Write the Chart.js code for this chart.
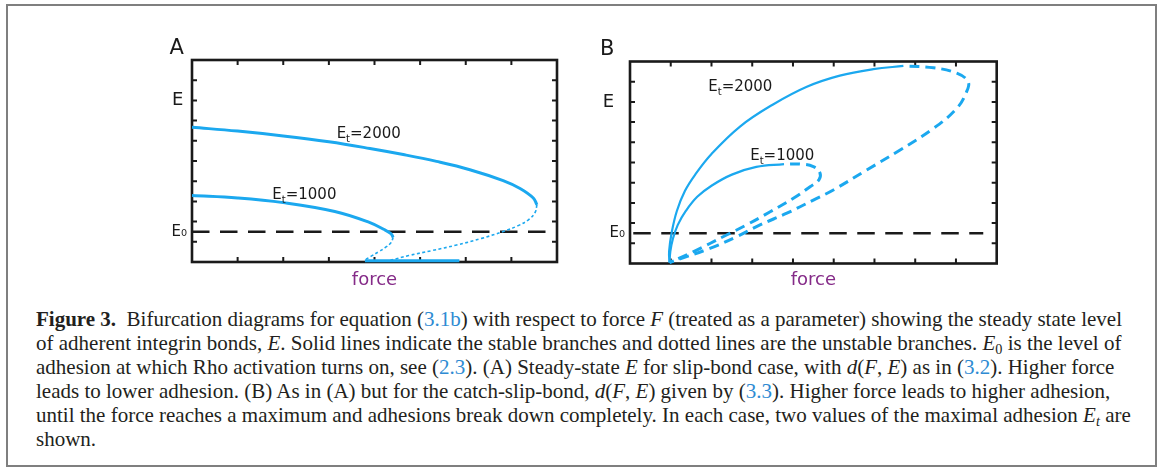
<!DOCTYPE html>
<html>
<head>
<meta charset="utf-8">
<script src="https://cdn.jsdelivr.net/npm/chart.js@4.4.1/dist/chart.umd.min.js"></script>
<style>
  html, body { margin: 0; padding: 0; background: #fff; }
  body { width: 1165px; height: 468px; position: relative; overflow: hidden; }
  #frame { position: absolute; left: 6px; top: 4px; width: 1151px; height: 463px; box-sizing: border-box; border: 2px solid #7f7f7f; }
  .panel { position: absolute; }
  #caption { position: absolute; left: 36px; font-family: "Liberation Serif", "Times New Roman", serif; color: #231f20; white-space: nowrap; }
  #caption .ln { display: block; width: max-content; height: 24px; line-height: 24px; }
  #caption .ref { color: #2e8bd3; }
  #caption sub { font-size: 0.68em; line-height: 0; vertical-align: -0.28em; }
</style>
</head>
<body>
<div id="frame"></div>
<div class="panel" style="left:140px;top:20px;"><canvas id="chartA" width="440" height="275"></canvas></div>
<div class="panel" style="left:580px;top:20px;"><canvas id="chartB" width="440" height="275"></canvas></div>
<div id="caption">
  <span class="ln"><b>Figure 3.</b>&nbsp;&nbsp;Bifurcation diagrams for equation (<span class="ref">3.1b</span>) with respect to force <i>F</i> (treated as a parameter) showing the steady state level</span>
  <span class="ln">of adherent integrin bonds, <i>E</i>. Solid lines indicate the stable branches and dotted lines are the unstable branches. <i>E</i><sub>0</sub> is the level of</span>
  <span class="ln">adhesion at which Rho activation turns on, see (<span class="ref">2.3</span>). (A) Steady-state <i>E</i> for slip-bond case, with <i>d</i>(<i>F</i>, <i>E</i>) as in (<span class="ref">3.2</span>). Higher force</span>
  <span class="ln">leads to lower adhesion. (B) As in (A) but for the catch-slip-bond, <i>d</i>(<i>F</i>, <i>E</i>) given by (<span class="ref">3.3</span>). Higher force leads to higher adhesion,</span>
  <span class="ln">until the force reaches a maximum and adhesions break down completely. In each case, two values of the maximal adhesion <i>E<sub>t</sub></i> are</span>
  <span class="ln">shown.</span>
</div>
<script>
// ---- Panel A: slip bond (force on x, adhesion E on y) ----
const slipStable2000X   = [0, 1.0, 2.0, 3.0, 3.9, 4.63, 5.36, 6.09, 6.82, 7.19, 7.48, 7.56];
const slipStable2000Y   = [6.67, 6.48, 6.24, 5.95, 5.62, 5.32, 4.98, 4.57, 4.03, 3.64, 3.17, 2.83];
const slipUnstable2000X = [7.56, 7.52, 7.38, 7.15, 6.82, 6.35, 5.8, 5.25, 4.75, 4.35];
const slipUnstable2000Y = [2.83, 2.45, 2.1, 1.8, 1.51, 1.17, 0.84, 0.56, 0.32, 0.08];
const slipStable1000X   = [0, 1.0, 2.0, 3.13, 3.9, 4.2, 4.36, 4.41];
const slipStable1000Y   = [3.29, 3.17, 2.94, 2.50, 1.95, 1.62, 1.4, 1.22];
const slipUnstable1000X = [4.41, 4.36, 4.24, 4.1, 3.92, 3.79];
const slipUnstable1000Y = [1.22, 0.95, 0.72, 0.52, 0.28, 0.1];
const slipZeroX = [3.79, 5.86];
const slipZeroY = [0.06, 0.06];

// ---- Panel B: catch-slip bond ----
const catchStable2000X   = [0.97, 0.96, 1.02, 1.15, 1.35, 1.6, 2.0, 2.7, 3.5, 4.34, 5.15, 5.97, 6.71];
const catchStable2000Y   = [0.05, 0.6, 1.5, 2.6, 3.6, 4.4, 5.42, 6.78, 7.86, 8.75, 9.3, 9.62, 9.78];
const catchUnstable2000X = [6.71, 7.45, 8.02, 8.30, 8.26, 8.02, 7.45, 6.63, 5.81, 4.99, 4.50, 3.85, 3.19, 2.62, 1.96, 0.97];
const catchUnstable2000Y = [9.78, 9.69, 9.42, 9.0, 8.5, 7.68, 6.69, 5.62, 4.63, 3.64, 3.14, 2.49, 1.91, 1.33, 0.75, 0.05];
const catchStable1000X   = [0.97, 0.99, 1.05, 1.17, 1.37, 1.65, 2.0, 2.5, 3.1, 3.78];
const catchStable1000Y   = [0.05, 0.6, 1.2, 1.9, 2.6, 3.3, 3.85, 4.4, 4.78, 4.92];
const catchUnstable1000X = [3.78, 4.2, 4.5, 4.66, 4.64, 4.42, 4.01, 3.44, 2.86, 2.37, 1.55, 0.97];
const catchUnstable1000Y = [4.92, 4.92, 4.8, 4.5, 4.15, 3.8, 3.23, 2.56, 1.91, 1.41, 0.58, 0.05];

// Rho activation threshold and the y tick that carries the "E" axis name
const E0 = 1.5;
const eTickValue = 8;
const etValues = [1000, 2000];

const BLUE = '#1ba8ef';
const INK = '#1a1a1a';
const FONT = '"DejaVu Sans", Verdana, sans-serif';

const pts = (xs, ys) => xs.map((x, i) => ({ x, y: ys[i] }));

function curve(xs, ys, style) {
  return Object.assign({
    data: pts(xs, ys), showLine: true, pointRadius: 0, borderColor: BLUE,
    backgroundColor: BLUE, fill: false, clip: false, tension: 0.4
  }, style);
}

function thresholdLine(x0, x1) {
  return {
    data: pts([x0, x1], [E0, E0]), showLine: true, pointRadius: 0, borderColor: INK,
    borderWidth: 2.6, borderDash: [17.5, 10.5], tension: 0, order: 10, clip: false
  };
}

// Frame with inward ticks on all four sides, panel letter and curve labels
const framePlugin = {
  id: 'panelFrame',
  beforeDatasetsDraw(chart) {
    const { ctx, chartArea: a, scales: { x, y } } = chart;
    ctx.save();
    ctx.strokeStyle = INK;
    ctx.lineWidth = 2;
    const L = 5;
    ctx.beginPath();
    for (let v = x.min + 1; v < x.max; v++) {
      const px = x.getPixelForValue(v);
      ctx.moveTo(px, a.top); ctx.lineTo(px, a.top + L);
      ctx.moveTo(px, a.bottom); ctx.lineTo(px, a.bottom - L);
    }
    for (let v = y.min + 1; v < y.max; v++) {
      const py = y.getPixelForValue(v);
      ctx.moveTo(a.left, py); ctx.lineTo(a.left + L, py);
      ctx.moveTo(a.right, py); ctx.lineTo(a.right - L, py);
    }
    ctx.stroke();
    ctx.lineWidth = 2.6;
    ctx.strokeRect(a.left, a.top, a.right - a.left, a.bottom - a.top);
    ctx.restore();
  },
  afterDatasetsDraw(chart, args, opts) {
    const { ctx, scales: { x, y } } = chart;
    ctx.save();
    ctx.fillStyle = INK;
    ctx.textBaseline = 'alphabetic';
    ctx.textAlign = 'left';
    ctx.font = '21px ' + FONT;
    ctx.fillText(opts.letter, opts.letterX, opts.letterY);
    for (const lab of opts.labels) {
      let px = x.getPixelForValue(lab.x);
      const py = y.getPixelForValue(lab.y);
      ctx.font = '15px ' + FONT;
      ctx.fillText('E', px, py);
      px += ctx.measureText('E').width;
      ctx.font = '10px ' + FONT;
      ctx.fillText('t', px, py + 4);
      px += ctx.measureText('t').width;
      ctx.font = '15px ' + FONT;
      ctx.fillText('=' + lab.value, px, py);
    }
    ctx.restore();
  }
};

function makeChart(id, cfg) {
  return new Chart(document.getElementById(id), {
    type: 'scatter',
    data: { datasets: cfg.datasets },
    options: {
      responsive: false,
      animation: false,
      events: [],
      layout: { padding: { left: 0, top: cfg.top, right: cfg.right, bottom: 0 } },
      plugins: {
        legend: { display: false },
        tooltip: { enabled: false },
        panelFrame: { letter: cfg.letter, letterX: cfg.letterX, letterY: cfg.letterY, labels: cfg.labels }
      },
      scales: {
        x: {
          type: 'linear', min: 0, max: cfg.xMax,
          ticks: { display: false },
          grid: { display: false, drawTicks: false },
          border: { display: false },
          title: {
            display: true, text: 'force', color: '#852b88',
            font: { family: FONT, size: 18 }, padding: { top: 0, bottom: 4 }
          },
          afterFit: s => { s.height = cfg.xH; }
        },
        y: {
          type: 'linear', min: 0, max: 10,
          grid: { display: false, drawTicks: false },
          border: { display: false },
          afterBuildTicks: s => { s.ticks = [{ value: E0 }, { value: eTickValue }]; },
          ticks: {
            padding: 5, color: INK,
            callback: v => (v === E0 ? 'E\u2080' : cfg.eLabel),
            font: c => ({ family: FONT, size: (c.tick && c.tick.value === E0) ? 15 : 18 })
          },
          afterFit: s => { s.width = cfg.yW; }
        }
      }
    },
    plugins: [framePlugin]
  });
}

const stableA = { borderWidth: 3 };
const unstableA = { borderWidth: 1.6, borderDash: [3, 2.5] };
const stableB = { borderWidth: 2.2 };
const unstableB = { borderWidth: 3, borderDash: [10, 6], borderDashOffset: 10 };

makeChart('chartA', {
  xMax: 8, top: 40, right: 23, yW: 52, xH: 33, eLabel: 'E\u2009',
  letter: 'A', letterX: 29.5, letterY: 33.5,
  labels: [
    { x: 3.17, y: 6.13, value: etValues[1] },
    { x: 1.76, y: 3.13, value: etValues[0] }
  ],
  datasets: [
    thresholdLine(0, 7.77),
    curve(slipStable2000X, slipStable2000Y, stableA),
    curve(slipUnstable2000X, slipUnstable2000Y, unstableA),
    curve(slipStable1000X, slipStable1000Y, stableA),
    curve(slipUnstable1000X, slipUnstable1000Y, unstableA),
    curve(slipZeroX, slipZeroY, Object.assign({}, stableA, { tension: 0 }))
  ]
});

makeChart('chartB', {
  xMax: 9, top: 41.5, right: 23.3, yW: 50, xH: 31.5, eLabel: 'E\u2009\u2009\u2009',
  letter: 'B', letterX: 20, letterY: 35,
  labels: [
    { x: 1.92, y: 8.54, value: etValues[1] },
    { x: 2.95, y: 5.12, value: etValues[0] }
  ],
  datasets: [
    thresholdLine(0.08, 8.67),
    curve(catchStable2000X, catchStable2000Y, stableB),
    curve(catchUnstable2000X, catchUnstable2000Y, unstableB),
    curve(catchStable1000X, catchStable1000Y, stableB),
    curve(catchUnstable1000X, catchUnstable1000Y, unstableB)
  ]
});

// Caption: size the serif text so the first line spans the text block width
(function layoutCaption() {
  const cap = document.getElementById('caption');
  const first = cap.querySelector('.ln');
  const base = 20;
  cap.style.fontSize = base + 'px';
  const w = first.getBoundingClientRect().width;
  const fs = base * 1086 / w;
  cap.style.fontSize = fs + 'px';
  const lineH = 24;
  const baseline = 326;
  cap.style.top = (baseline - (lineH - 1.107 * fs) / 2 - 0.891 * fs) + 'px';
})();
</script>
</body>
</html>
